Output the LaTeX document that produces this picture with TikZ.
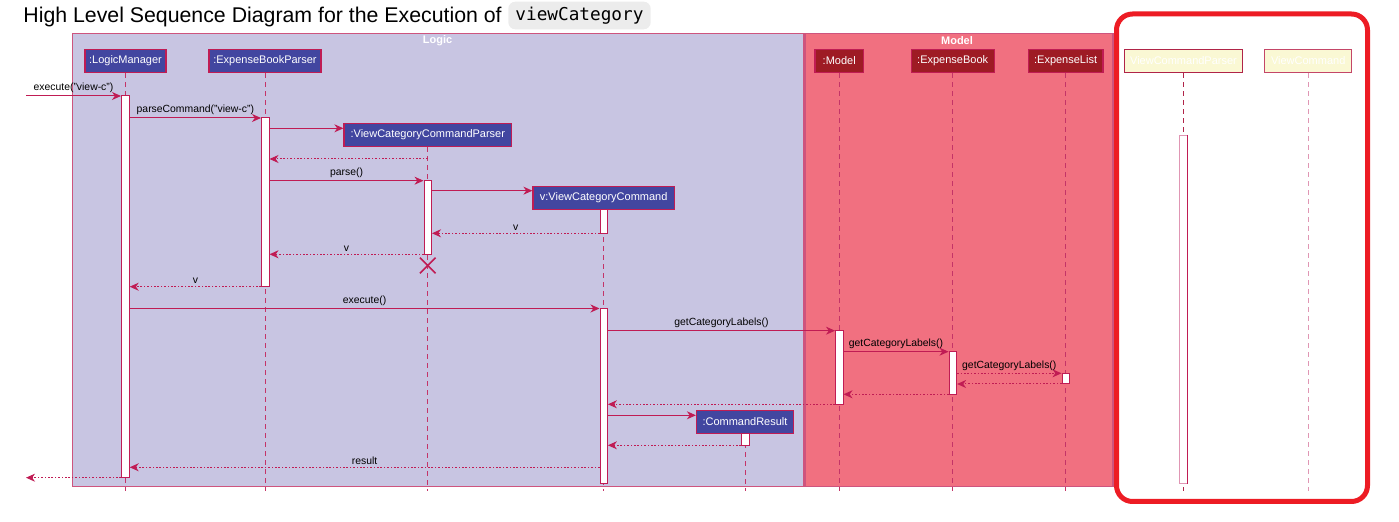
\documentclass[tikz,border=0pt]{standalone}
\usepackage{fontspec}
\setmainfont{Liberation Sans}
\newfontfamily\codefont{DejaVu Sans Mono}
\usetikzlibrary{arrows.meta,fit,shapes.misc}
\definecolor{logicbg}{RGB}{200,197,226}
\definecolor{modelbg}{RGB}{241,112,128}
\definecolor{grpline}{RGB}{206,84,126}
\definecolor{partblue}{RGB}{66,70,160}
\definecolor{partred}{RGB}{158,27,36}
\definecolor{msg}{RGB}{192,28,84}
\definecolor{life}{RGB}{196,52,104}
\definecolor{hilite}{RGB}{237,28,36}
\definecolor{ghost}{RGB}{250,248,212}
\definecolor{ghostline}{RGB}{224,150,180}
\definecolor{codebg}{RGB}{236,236,236}

\begin{document}
\begin{tikzpicture}[x=0.5pt, y=-0.5pt, >={Stealth[length=4.5pt,width=4pt,inset=1.4pt]},
  part/.style={draw=msg, fill=partblue, text=white, line width=0.6pt, minimum height=11.6pt,
    inner sep=0pt, font=\fontsize{5.5}{6}\selectfont},
  mpart/.style={part, fill=partred},
  gpart/.style={part, fill=ghost},
  act/.style={draw=msg, fill=white, line width=0.5pt, inner sep=0pt},
  lifeline/.style={draw=life, line width=0.5pt, dash pattern=on 2.5pt off 2pt},
  call/.style={->, draw=msg, line width=0.5pt},
  ret/.style={->, draw=msg, line width=0.5pt, dash pattern=on 0.8pt off 0.9pt},
  lbl/.style={above, inner sep=1.2pt, text=black, font=\fontsize{5.2}{6}\selectfont},
  grp/.style={text=white, font=\bfseries\fontsize{5.5}{6}\selectfont}]
  \useasboundingbox (0,0) rectangle (1399,522);

  \node[anchor=base west, inner sep=0pt, font=\fontsize{10.65}{12}\selectfont] (title) at (23,23)
    {High Level Sequence Diagram for the Execution of};
  \node[fill=codebg, rounded corners=3.5pt, minimum width=71.2pt, minimum height=13.8pt, inner sep=0pt,
    font=\codefont\fontsize{8.86}{10}\selectfont] (code) at (579.5,15.5) {viewCategory};

  \draw[grpline, fill=logicbg, line width=0.6pt] (72.5,33.5) rectangle (803.5,486.7);
  \draw[grpline, fill=modelbg, line width=0.6pt] (805,33.5) rectangle (1113,486.7);
  \node[grp] (logic) at (437.5,41) {Logic};
  \node[grp] (model) at (957,41) {Model};
  \draw[hilite, line width=2.5pt, rounded corners=8pt] (1116.5,14) rectangle (1367.5,501.5);

  \node[part, minimum width=40.5pt] (lm) at (125.5,61) {:LogicManager};
  \node[part, minimum width=56pt] (ebp) at (265,61) {:ExpenseBookParser};
  \node[part, minimum width=83.8pt] (vccp) at (427.8,135) {:ViewCategoryCommandParser};
  \node[part, minimum width=70.7pt] (vcc) at (603.7,198) {v:ViewCategoryCommand};
  \node[part, minimum width=48.5pt] (cr) at (745,422) {:CommandResult};
  \node[mpart, minimum width=24.2pt] (mdl) at (839.2,61) {:Model};
  \node[mpart, minimum width=41.5pt] (eb) at (952.7,61) {:ExpenseBook};
  \node[mpart, minimum width=37.3pt] (el) at (1065.6,61) {:ExpenseList};
  \node[gpart, draw={rgb,255:red,176;green,36;blue,72}, minimum width=59.2pt] (vcp) at (1183.5,61) {ViewCommandParser};
  \node[gpart, draw={rgb,255:red,196;green,70;blue,104}, minimum width=43.5pt] (vc) at (1308.2,61) {ViewCommand};

  \foreach \p in {lm,ebp,vccp,vcc,cr,mdl,eb,el}
    \draw[lifeline] (\p.south) -- (\p.south |- 0,491);
  \draw[lifeline, draw={rgb,255:red,176;green,36;blue,72}] (vcp.south) -- (vcp.south |- 0,491);
  \draw[lifeline, draw=ghostline] (vc.south) -- (vc.south |- 0,491);

  \node[act, fit={(121.5,95.7) (129.2,477.7)}] (lmA) {};
  \node[act, fit={(261.5,117.7) (269,286.7)}] (ebpA) {};
  \node[act, fit={(424,180.5) (431.5,254.5)}] (vccpA) {};
  \node[act, fit={(600,209.3) (607.4,233.3)}] (vccA) {};
  \node[act, fit={(600,308.5) (607.4,484)}] (vccB) {};
  \node[act, fit={(741.4,433.3) (749,445.3)}] (crA) {};
  \node[act, fit={(835.5,330.5) (843,404.3)}] (mdlA) {};
  \node[act, fit={(949,351.7) (956.6,394.3)}] (ebA) {};
  \node[act, fit={(1062,373.3) (1069.7,384)}] (elA) {};
  \node[act, draw=ghostline, fit={(1179.3,135.3) (1187.3,484)}] (vcpA) {};
  \draw[msg, line width=0.5pt] (vcpA.north east) -- (vcpA.south east);

  \coordinate (in) at (26,96);
  \coordinate (out) at (26,477.7);
  \node[cross out, draw=msg, line width=0.8pt, minimum size=7pt, inner sep=0pt] (vccpX) at (427.8,265.5) {};

  \draw[call] (in) -- node[lbl] {execute("view-c")} (lmA.west |- in);
  \draw[call] (lmA.east |- 0,118) -- node[lbl] {parseCommand("view-c")} (ebpA.west |- 0,118);
  \draw[call] (ebpA.east |- 0,128.3) -- (vccp.west |- 0,128.3);
  \draw[ret] (vccp.south |- 0,159) -- (ebpA.east |- 0,159);
  \draw[call] (ebpA.east |- 0,180.7) -- node[lbl] {parse()} (vccpA.west |- 0,180.7);
  \draw[call] (vccpA.east |- 0,190.7) -- (vcc.west |- 0,190.7);
  \draw[ret] (vccA.west |- 0,233.3) -- node[lbl] {v} (vccpA.east |- 0,233.3);
  \draw[ret] (vccpA.west |- 0,254.3) -- node[lbl] {v} (ebpA.east |- 0,254.3);
  \draw[ret] (ebpA.west |- 0,286.7) -- node[lbl] {v} (lmA.east |- 0,286.7);
  \draw[call] (lmA.east |- 0,308.5) -- node[lbl] {execute()} (vccB.west |- 0,308.5);
  \draw[call] (vccB.east |- 0,330.7) -- node[lbl] {getCategoryLabels()} (mdlA.west |- 0,330.7);
  \draw[call] (mdlA.east |- 0,351.7) -- node[lbl] {getCategoryLabels()} (ebA.west |- 0,351.7);
  \draw[ret] (ebA.east |- 0,373.3) -- node[lbl] {getCategoryLabels()} (elA.west |- 0,373.3);
  \draw[ret] (elA.west |- 0,384) -- (ebA.east |- 0,384);
  \draw[ret] (ebA.west |- 0,394.3) -- (mdlA.east |- 0,394.3);
  \draw[ret] (mdlA.west |- 0,404.3) -- (vccB.east |- 0,404.3);
  \draw[call] (vccB.east |- 0,415.3) -- (cr.west |- 0,415.3);
  \draw[ret] (crA.west |- 0,445.3) -- (vccB.east |- 0,445.3);
  \draw[ret] (vccB.west |- 0,467.3) -- node[lbl] {result} (lmA.east |- 0,467.3);
  \draw[ret] (lmA.west |- out) -- (out);
\end{tikzpicture}
\end{document}
